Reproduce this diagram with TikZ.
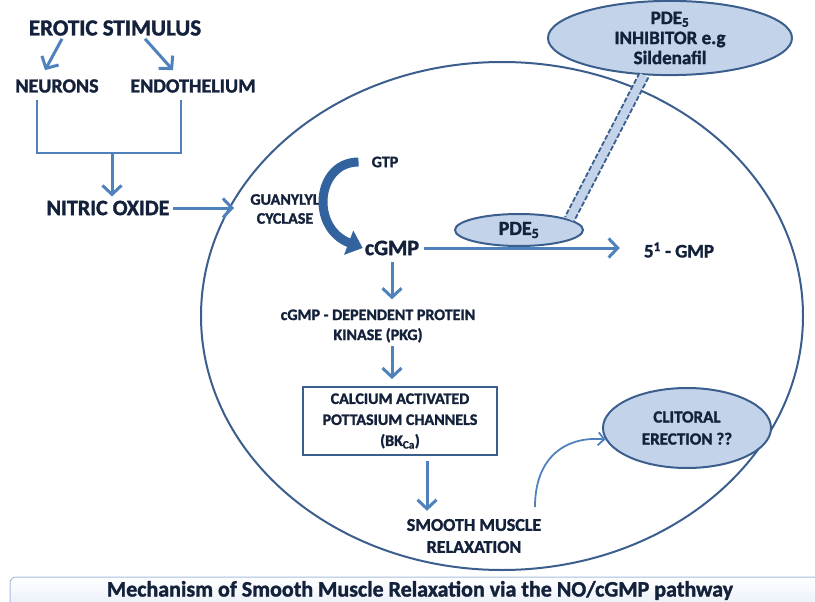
\documentclass[tikz,border=0pt]{standalone}
\usepackage{fontspec}
\setmainfont{Carlito}[BoldFont={Carlito Bold}, BoldFeatures={FakeBold=1.5}]
\usetikzlibrary{arrows.meta,shapes.geometric,calc}

\definecolor{inkblue}{HTML}{14213A}
\definecolor{arrowblue}{HTML}{4F81BD}
\definecolor{rimblue}{HTML}{3B5E8C}
\definecolor{fillblue}{HTML}{C3D4EA}
\definecolor{turnblue}{HTML}{33639E}
\definecolor{barline}{HTML}{A7BFDE}
\definecolor{barfill}{HTML}{C9DAF0}

\tikzset{
  lbl/.style={text=inkblue, font=\bfseries\fontsize{16}{20}\selectfont, align=center, inner sep=0pt},
  biglbl/.style={lbl, font=\bfseries\fontsize{20}{22}\selectfont},
  midlbl/.style={lbl, font=\bfseries\fontsize{21}{23}\selectfont},
  flow/.style={draw=arrowblue, line width=3pt, -{Straight Barb[length=9pt,width=19pt]}},
  joinline/.style={draw=arrowblue, line width=2.5pt},
  bubble/.style={ellipse, draw=rimblue, line width=2pt, fill=fillblue, inner sep=0pt, align=center, text=inkblue},
}

\begin{document}
\begin{tikzpicture}[x=1pt,y=-1pt]
  \useasboundingbox (0,0) rectangle (815,602);

  % cell outline
  \draw[rimblue, line width=2pt] (502,316) ellipse [x radius=301, y radius=254];

  % left column
  \node[biglbl, font=\bfseries\fontsize{23}{25}\selectfont] (erotic) at (115,28) {EROTIC STIMULUS};
  \node[biglbl] (neur) at (57,86) {NEURONS};
  \node[biglbl] (endo) at (193,86) {ENDOTHELIUM};
  \node[biglbl, font=\bfseries\fontsize{22}{24}\selectfont] (nitric) at (108,208) {NITRIC OXIDE};

  \draw[flow] ([xshift=-53pt,yshift=-3pt]erotic.south) -- ([xshift=-12pt,yshift=9pt]neur.north);
  \draw[flow] ([xshift=30pt,yshift=-3pt]erotic.south) -- ([xshift=-20pt,yshift=9pt]endo.north);

  \coordinate (nfoot) at (37,100);
  \coordinate (efoot) at (181,100);
  \coordinate (joint) at (112,153);
  \draw[joinline] (nfoot) |- (joint) -| (efoot);
  \draw[flow, shorten >=4pt] (joint) -- (joint |- nitric.north);

  \coordinate (rimin) at (234,208);
  \draw[flow, shorten <=3pt] (nitric.east) -- (rimin);

  % inside the cell
  \node[lbl, font=\bfseries\fontsize{16}{19}\selectfont] (gc) at (285,209) {GUANYLYL\\CYCLASE};
  \node[lbl, font=\bfseries\fontsize{16}{19}\selectfont] (gtp) at (385,162) {GTP};
  \node[midlbl, font=\bfseries\fontsize{22}{24}\selectfont] (cgmp) at (392,248) {cGMP};
  \draw[turnblue, line width=9pt, -{Triangle[length=15pt,width=25pt]}]
    ([xshift=-13pt]gtp.west) .. controls (316,162) and (310,228) .. ([xshift=-2pt]cgmp.west);

  \node[bubble, minimum width=128pt, minimum height=32pt, font=\bfseries\fontsize{20}{22}\selectfont] (pde) at (519,230) {PDE\textsubscript{5}};
  \node[midlbl, font=\bfseries\fontsize{19}{21}\selectfont] (gmp5) at (679,250) {5\textsuperscript{1} - GMP};
  \draw[flow, shorten <=5pt, shorten >=24pt] (cgmp.east) -- (cgmp.east -| gmp5.west);

  \node[bubble, minimum width=244pt, minimum height=68pt, font=\bfseries\fontsize{19}{20}\selectfont] (pdei) at (670,38) {PDE\textsubscript{5}\\INHIBITOR e.g\\Sildenafil};

  % dashed inhibition band
  \coordinate (bandtop) at (pdei.235);
  \coordinate (bandfoot) at (pde.12);
  \fill[fillblue] ($(bandtop)!5pt!90:(bandfoot)$) -- ($(bandfoot)!5pt!-90:(bandtop)$)
    -- ($(bandfoot)!5pt!90:(bandtop)$) -- ($(bandtop)!5pt!-90:(bandfoot)$) -- cycle;
  \draw[rimblue, line width=1.8pt, dash pattern=on 5pt off 2pt]
    ($(bandtop)!5pt!90:(bandfoot)$) -- ($(bandfoot)!5pt!-90:(bandtop)$);
  \draw[rimblue, line width=1.8pt, dash pattern=on 5pt off 2pt]
    ($(bandtop)!5pt!-90:(bandfoot)$) -- ($(bandfoot)!5pt!90:(bandtop)$);

  \node[lbl] (pkg) at (378,326) {cGMP - DEPENDENT PROTEIN\\KINASE (PKG)};
  \draw[flow, shorten <=7pt, shorten >=10pt] (cgmp.south) -- (cgmp.south |- pkg.north);

  \node[lbl, font=\bfseries\fontsize{16}{21}\selectfont, draw=rimblue, line width=1.8pt, fill=white, minimum width=194pt, minimum height=68pt] (bk) at (400,421)
    {CALCIUM ACTIVATED\\POTTASIUM CHANNELS\\(BK\textsubscript{Ca})};
  \draw[flow, shorten <=3pt, shorten >=7pt] (pkg.south -| cgmp.south) -- (cgmp.south |- bk.north);

  \node[lbl, font=\bfseries\fontsize{18}{22}\selectfont] (smr) at (474,536) {SMOOTH MUSCLE\\RELAXATION};
  \coordinate (bkfoot) at ([xshift=27pt]bk.south);
  \draw[flow, shorten <=5pt, shorten >=8pt] (bkfoot) -- (bkfoot |- smr.north);

  \node[bubble, minimum width=168pt, minimum height=80pt, font=\bfseries\fontsize{17}{22}\selectfont] (clit) at (687,428) {CLITORAL\\ERECTION ??};
  \coordinate (bendfoot) at (535,507);
  \draw[arrowblue, line width=1.8pt, -{Straight Barb[length=6pt,width=13pt]}]
    (bendfoot) .. controls (535,455) and (568,436) .. (clit.188);

  % caption bar
  \draw[barline, line width=1pt, rounded corners=6pt, top color=white, bottom color=barfill]
    (10,577) rectangle (840,650);
  \node[lbl, font=\bfseries\fontsize{22}{24}\selectfont, anchor=base] (caption) at (420,596.5)
    {Mechanism of Smooth Muscle Relaxation via the NO/cGMP pathway};
\end{tikzpicture}
\end{document}
